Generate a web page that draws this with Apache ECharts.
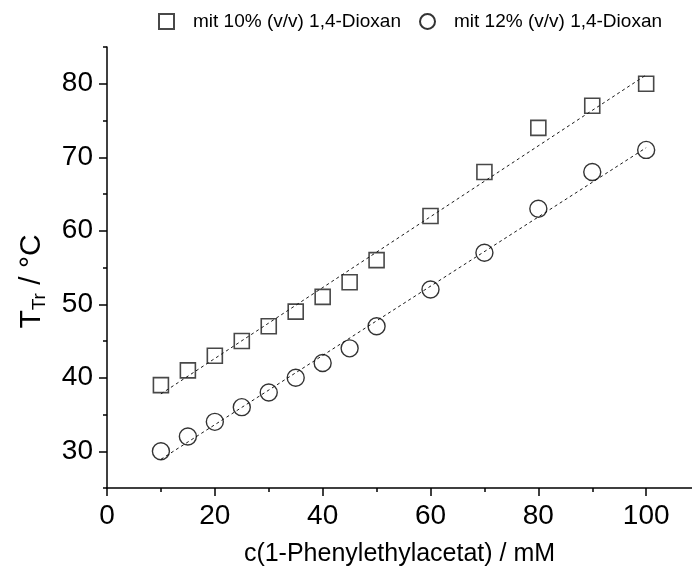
<!DOCTYPE html>
<html>
<head>
<meta charset="utf-8">
<script src="https://cdn.jsdelivr.net/npm/echarts@6/dist/echarts.min.js"></script>
<style>
html,body{margin:0;padding:0;background:#fff;}
#chart{width:692px;height:581px;}
</style>
</head>
<body>
<div id="chart"></div>
<script>
const xValues = [10, 15, 20, 25, 30, 35, 40, 45, 50, 60, 70, 80, 90, 100];
const dioxan10 = [39, 41, 43, 45, 47, 49, 51, 53, 56, 62, 68, 74, 77, 80];
const dioxan12 = [30, 32, 34, 36, 38, 40, 42, 44, 47, 52, 57, 63, 68, 71];
const fitX = [10, 100];
const fit10 = [37.8, 81.2];
const fit12 = [28.9, 71.3];
const xMajorTicks = [0, 20, 40, 60, 80, 100];
const xMinorTicks = [10, 30, 50, 70, 90];
const yMajorTicks = [30, 40, 50, 60, 70, 80];
const yMinorTicks = [25, 35, 45, 55, 65, 75, 85];
const seriesNames = ['mit 10% (v/v) 1,4-Dioxan', 'mit 12% (v/v) 1,4-Dioxan'];
const xTitle = 'c(1-Phenylethylacetat) / mM';

const FONT = 'Liberation Sans, Arial, sans-serif';
const chart = echarts.init(document.getElementById('chart'));

const pairs = (xs, ys) => xs.map((x, i) => [x, ys[i]]);
const axisColor = '#000';

const option = {
  animation: false,
  backgroundColor: '#fff',
  grid: { left: 107, right: 0, top: 47, bottom: 93, containLabel: false },
  legend: {
    left: 158, top: 12, padding: 0,
    itemWidth: 15, itemHeight: 15, itemGap: 18,
    data: seriesNames,
    textStyle: { fontFamily: FONT, fontSize: 19, color: '#000', padding: [0, 0, 0, 14] }
  },
  xAxis: [
    {
      type: 'value', min: 0, max: 108.5, position: 'bottom',
      name: xTitle, nameLocation: 'middle', nameGap: 54,
      nameTextStyle: { fontFamily: FONT, fontSize: 25, color: '#000' },
      axisLine: { onZero: false, lineStyle: { color: axisColor, width: 1.5 } },
      axisTick: { length: 8, customValues: xMajorTicks, lineStyle: { color: axisColor, width: 1.5 } },
      axisLabel: { customValues: xMajorTicks, margin: 14, fontFamily: FONT, fontSize: 28, color: '#000' },
      splitLine: { show: false }
    },
    {
      type: 'value', min: 0, max: 108.5, position: 'bottom',
      axisLine: { show: false, onZero: false },
      axisTick: { length: 4, customValues: xMinorTicks, lineStyle: { color: axisColor, width: 1.5 } },
      axisLabel: { show: false },
      splitLine: { show: false }
    }
  ],
  yAxis: [
    {
      type: 'value', min: 25, max: 85, position: 'left',
      name: '{t|T}{s|Tr}{t| / °C}', nameLocation: 'middle', nameGap: 58, nameRotate: 90,
      nameTextStyle: {
        fontFamily: FONT, color: '#000', padding: [0, 28, 0, 0],
        rich: {
          t: { fontFamily: FONT, fontSize: 30, color: '#000', lineHeight: 34 },
          s: { fontFamily: FONT, fontSize: 19, color: '#000', lineHeight: 34, padding: [16, 0, 0, 0] }
        }
      },
      axisLine: { onZero: false, lineStyle: { color: axisColor, width: 1.5 } },
      axisTick: { length: 8, customValues: yMajorTicks, lineStyle: { color: axisColor, width: 1.5 } },
      axisLabel: { customValues: yMajorTicks, margin: 14, fontFamily: FONT, fontSize: 28, color: '#000' },
      splitLine: { show: false }
    },
    {
      type: 'value', min: 25, max: 85, position: 'left',
      axisLine: { show: false, onZero: false },
      axisTick: { length: 4, customValues: yMinorTicks, lineStyle: { color: axisColor, width: 1.5 } },
      axisLabel: { show: false },
      splitLine: { show: false }
    }
  ],
  series: [
    {
      name: 'fit10', type: 'line', xAxisIndex: 0, yAxisIndex: 0,
      data: pairs(fitX, fit10), symbol: 'none', silent: true,
      lineStyle: { color: '#000', width: 0.9, type: [3, 3] }, z: 1
    },
    {
      name: 'fit12', type: 'line', xAxisIndex: 0, yAxisIndex: 0,
      data: pairs(fitX, fit12), symbol: 'none', silent: true,
      lineStyle: { color: '#000', width: 0.9, type: [3, 3] }, z: 1
    },
    {
      name: seriesNames[0], type: 'scatter', xAxisIndex: 0, yAxisIndex: 0,
      data: pairs(xValues, dioxan10), symbol: 'rect', symbolSize: 15,
      itemStyle: { color: 'rgba(255,255,255,0)', borderColor: '#1a1a1a', borderWidth: 1.6 }, z: 3
    },
    {
      name: seriesNames[1], type: 'scatter', xAxisIndex: 0, yAxisIndex: 0,
      data: pairs(xValues, dioxan12), symbol: 'circle', symbolSize: 17,
      itemStyle: { color: 'rgba(255,255,255,0)', borderColor: '#000', borderWidth: 1.4 }, z: 3
    }
  ]
};
chart.setOption(option);
</script>
</body>
</html>
